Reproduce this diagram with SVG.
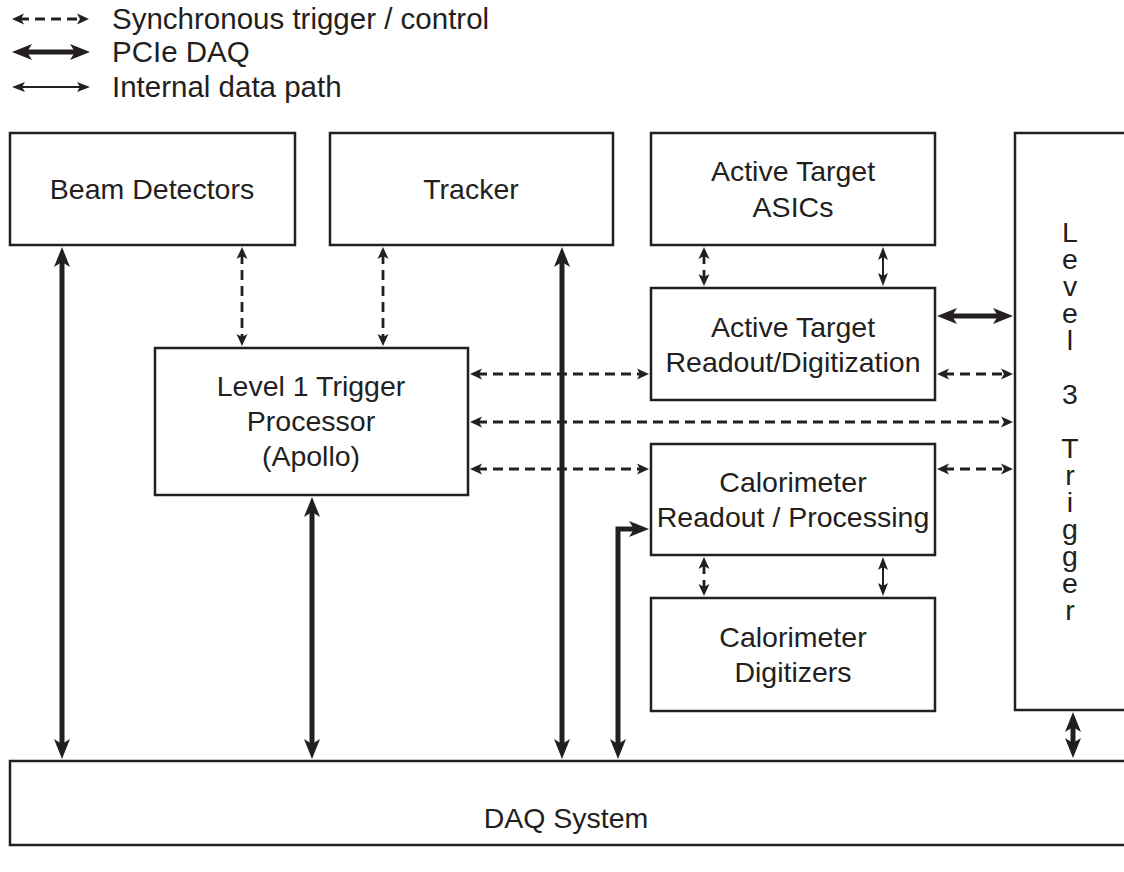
<svg xmlns="http://www.w3.org/2000/svg" width="1124" height="872" viewBox="0 0 1124 872">
<style>
.box{fill:#fff;stroke:#231f20;stroke-width:2.5}
.t{font-family:"Liberation Sans",Arial,sans-serif;font-size:28.5px;fill:#231f20;text-anchor:middle}
.lg{font-family:"Liberation Sans",Arial,sans-serif;font-size:29.5px;fill:#231f20}
.thick{fill:none;stroke:#231f20;stroke-width:5;marker-start:url(#hk);marker-end:url(#hk);stroke-linejoin:miter}
.thin{fill:none;stroke:#231f20;stroke-width:2;marker-start:url(#hn);marker-end:url(#hn)}
.dash{fill:none;stroke:#231f20;stroke-width:2.8;stroke-dasharray:10 6;marker-start:url(#hd);marker-end:url(#hd)}
</style>
<defs>
<marker id="hk" markerUnits="userSpaceOnUse" markerWidth="22" markerHeight="20" viewBox="0 -10 22 20" refX="8" refY="0" orient="auto-start-reverse"><path d="M0,-8 L20,0 L0,8 L5,0 Z" fill="#231f20"/></marker>
<marker id="hn" markerUnits="userSpaceOnUse" markerWidth="16" markerHeight="12" viewBox="0 -6 16 12" refX="5" refY="0" orient="auto-start-reverse"><path d="M0,-5 L13,0 L0,5 L3,0 Z" fill="#231f20"/></marker>
<marker id="hd" markerUnits="userSpaceOnUse" markerWidth="16" markerHeight="14" viewBox="0 -7 16 14" refX="5" refY="0" orient="auto-start-reverse"><path d="M0,-5.5 L12,0 L0,5.5 L3,0 Z" fill="#231f20"/></marker>
</defs>
<rect width="1124" height="872" fill="#fff"/>
<g id="legend">
<line class="dash" x1="19" y1="19" x2="82" y2="19"/>
<line class="thick" x1="24" y1="52" x2="78" y2="52"/>
<line class="thin" x1="20" y1="87" x2="82" y2="87"/>
<text class="lg" x="112" y="29">Synchronous trigger / control</text>
<text class="lg" x="112" y="62">PCIe DAQ</text>
<text class="lg" x="112" y="97">Internal data path</text>
</g>
<g id="beam"><rect class="box" x="10" y="133" width="285" height="112"/><text class="t" x="152" y="199">Beam Detectors</text></g>
<g id="tracker"><rect class="box" x="330" y="133" width="283" height="112"/><text class="t" x="471" y="199">Tracker</text></g>
<g id="asics"><rect class="box" x="651" y="133" width="284" height="112"/><text class="t" x="793" y="181">Active Target</text><text class="t" x="793" y="217">ASICs</text></g>
<g id="atreadout"><rect class="box" x="651" y="288" width="284" height="112"/><text class="t" x="793" y="337">Active Target</text><text class="t" x="793" y="372">Readout/Digitization</text></g>
<g id="l1"><rect class="box" x="155" y="348" width="313" height="147"/><text class="t" x="311" y="396">Level 1 Trigger</text><text class="t" x="311" y="431">Processor</text><text class="t" x="311" y="466">(Apollo)</text></g>
<g id="calreadout"><rect class="box" x="651" y="444" width="284" height="111"/><text class="t" x="793" y="492">Calorimeter</text><text class="t" x="793" y="527">Readout / Processing</text></g>
<g id="caldig"><rect class="box" x="651" y="598" width="284" height="113"/><text class="t" x="793" y="647">Calorimeter</text><text class="t" x="793" y="682">Digitizers</text></g>
<g id="l3"><rect class="box" x="1015" y="133" width="120" height="577"/>
<text class="t" x="1070"><tspan x="1070" y="242">L</tspan><tspan x="1070" y="269">e</tspan><tspan x="1070" y="296">v</tspan><tspan x="1070" y="323">e</tspan><tspan x="1070" y="350">l</tspan><tspan x="1070" y="404">3</tspan><tspan x="1070" y="458">T</tspan><tspan x="1070" y="485">r</tspan><tspan x="1070" y="512">i</tspan><tspan x="1070" y="539">g</tspan><tspan x="1070" y="566">g</tspan><tspan x="1070" y="593">e</tspan><tspan x="1070" y="620">r</tspan></text></g>
<g id="daq"><rect class="box" x="10" y="761" width="1125" height="84"/><text class="t" x="566" y="828">DAQ System</text></g>
<g id="connectors">
<line class="thick" x1="62" y1="259" x2="62" y2="747"/>
<line class="thick" x1="562" y1="259" x2="562" y2="747"/>
<line class="thick" x1="312" y1="509" x2="312" y2="747"/>
<line class="thick" x1="949" y1="316" x2="1001" y2="316"/>
<line class="thick" x1="1073" y1="724" x2="1073" y2="746"/>
<polyline class="thick" points="618,747 618,529 637,529"/>
<line class="dash" x1="242" y1="254" x2="242" y2="339"/>
<line class="dash" x1="383" y1="254" x2="383" y2="339"/>
<line class="dash" x1="477" y1="374" x2="642" y2="374"/>
<line class="dash" x1="477" y1="422" x2="1006" y2="422"/>
<line class="dash" x1="477" y1="469" x2="642" y2="469"/>
<line class="dash" x1="944" y1="374" x2="1006" y2="374"/>
<line class="dash" x1="944" y1="469" x2="1006" y2="469"/>
<line class="dash" x1="704" y1="254" x2="704" y2="279"/>
<line class="dash" x1="704" y1="564" x2="704" y2="589"/>
<line class="thin" x1="883" y1="255" x2="883" y2="278"/>
<line class="thin" x1="883" y1="565" x2="883" y2="588"/>
</g>
</svg>
